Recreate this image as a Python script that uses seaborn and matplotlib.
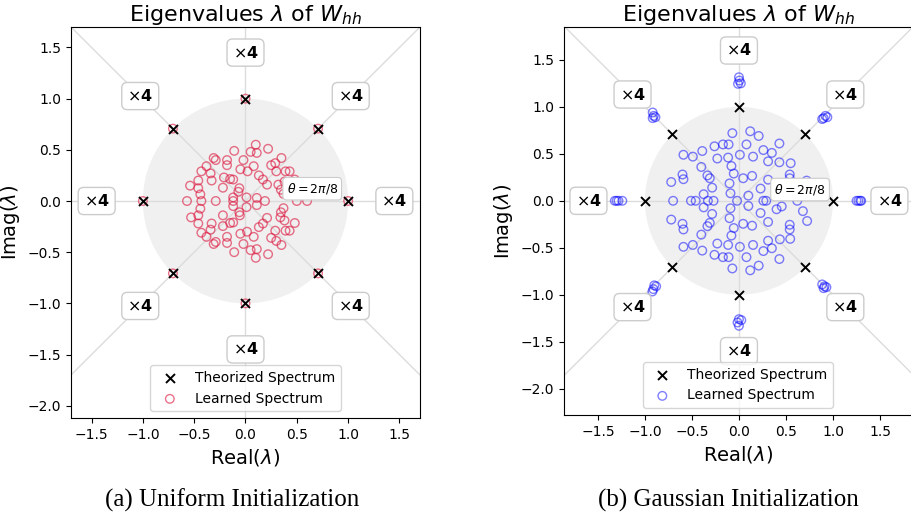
import numpy as np
import pandas as pd
import seaborn as sns
import matplotlib.pyplot as plt
from matplotlib.patches import Circle

sns.set_style("ticks", {"axes.edgecolor": "black", "text.color": "black",
                        "axes.labelcolor": "black", "xtick.color": "black",
                        "ytick.color": "black"})
plt.rcParams['font.family'] = ['DejaVu Sans']
plt.rcParams['mathtext.fontset'] = 'dejavusans'

# --- Data: theorized spectrum (8 roots of unity, multiplicity 4) ---
theory_re = [1.0, 0.707, 0.0, -0.707, -1.0, -0.707, 0.0, 0.707]
theory_im = [0.0, 0.707, 1.0, 0.707, 0.0, -0.707, -1.0, -0.707]
multiplicity = ["×4"] * 8

# --- Data: learned spectrum, uniform init ---
uni_upper = [
    (0.10, 0.55), (0.22, 0.51), (0.05, 0.48), (0.11, 0.47), (-0.11, 0.49),
    (-0.31, 0.42), (-0.29, 0.40), (-0.18, 0.40), (-0.02, 0.40), (0.35, 0.42),
    (0.29, 0.37), (0.25, 0.35), (-0.38, 0.34), (-0.18, 0.35), (0.08, 0.34),
    (-0.05, 0.31), (0.02, 0.29), (-0.43, 0.29), (-0.34, 0.27), (0.30, 0.29),
    (0.39, 0.29), (0.43, 0.29), (0.13, 0.25), (-0.21, 0.23), (-0.15, 0.215),
    (-0.12, 0.21), (-0.33, 0.20), (-0.46, 0.20), (0.17, 0.21), (0.21, 0.16),
    (0.48, 0.21), (-0.54, 0.15), (-0.46, 0.125), (-0.22, 0.13), (-0.06, 0.125),
    (-0.07, 0.09), (-0.44, 0.065), (-0.12, 0.035), (0.01, 0.035), (0.11, 0.03),
    (0.32, 0.16), (0.345, 0.11), (0.37, 0.07), (0.38, 0.19),
]
uni_lower = [
    (-0.12, -0.05), (-0.06, -0.11), (-0.055, -0.14), (0.01, -0.06), (0.11, -0.04),
    (-0.44, -0.075), (-0.53, -0.16), (-0.46, -0.14), (-0.46, -0.22), (-0.33, -0.22),
    (-0.22, -0.14), (-0.22, -0.245), (-0.15, -0.215), (-0.12, -0.21), (-0.34, -0.28),
    (-0.43, -0.31), (-0.38, -0.35), (-0.18, -0.35), (-0.18, -0.41), (-0.31, -0.42),
    (-0.29, -0.40), (-0.05, -0.32), (0.015, -0.30), (0.08, -0.35), (-0.02, -0.42),
    (-0.11, -0.50), (0.05, -0.48), (0.11, -0.47), (0.10, -0.555), (0.22, -0.52),
    (0.13, -0.255), (0.17, -0.22), (0.21, -0.165), (0.29, -0.29), (0.25, -0.36),
    (0.30, -0.39), (0.35, -0.43), (0.34, -0.16), (0.37, -0.07), (0.345, -0.11),
    (0.38, -0.19), (0.39, -0.29), (0.43, -0.29), (0.48, -0.215),
]
uni_real = [-0.57, -0.43, -0.29, -0.12, 0.19, 0.50, 0.60]
# the 32 unit-circle eigenvalues sit on the theorized points
uni_circle = list(zip(theory_re, theory_im))

# --- Data: learned spectrum, gaussian init ---
gau_upper = [
    (-0.07, 0.72), (0.12, 0.74), (0.21, 0.69), (0.43, 0.61), (-0.26, 0.58),
    (-0.17, 0.60), (-0.11, 0.60), (0.08, 0.60), (-0.39, 0.53), (0.26, 0.54),
    (0.35, 0.51), (-0.59, 0.49), (-0.49, 0.47), (-0.23, 0.45), (-0.115, 0.46),
    (0.01, 0.49), (0.15, 0.47), (0.31, 0.42), (0.43, 0.41), (0.55, 0.40),
    (-0.40, 0.36), (-0.08, 0.37), (-0.60, 0.28), (-0.59, 0.23), (-0.335, 0.27),
    (-0.31, 0.24), (-0.055, 0.29), (0.045, 0.24), (0.14, 0.265), (0.54, 0.28),
    (0.54, 0.24), (0.31, 0.225), (-0.72, 0.20), (-0.285, 0.14), (-0.10, 0.185),
    (0.23, 0.13), (0.72, 0.215), (-0.375, 0.07), (-0.09, 0.08), (0.10, 0.055),
    (0.40, 0.09), (0.455, 0.06), (0.68, 0.11),
]
gau_lower = [
    (-0.375, -0.07), (-0.09, -0.08), (0.10, -0.055), (0.40, -0.09), (0.455, -0.06),
    (0.68, -0.11), (0.725, -0.215), (-0.72, -0.20), (-0.285, -0.14), (-0.10, -0.185),
    (0.23, -0.13), (0.31, -0.225), (-0.60, -0.245), (-0.59, -0.305), (-0.335, -0.27),
    (-0.31, -0.235), (-0.055, -0.29), (0.045, -0.245), (0.14, -0.265), (0.54, -0.255),
    (0.54, -0.305), (-0.40, -0.36), (-0.08, -0.37), (0.545, -0.405), (0.435, -0.41),
    (0.31, -0.425), (-0.59, -0.49), (-0.49, -0.47), (-0.23, -0.455), (-0.115, -0.47),
    (0.01, -0.49), (0.15, -0.47), (0.35, -0.505), (0.26, -0.535), (-0.39, -0.53),
    (-0.26, -0.575), (-0.17, -0.60), (-0.11, -0.60), (0.08, -0.60), (0.43, -0.62),
    (-0.07, -0.72), (0.12, -0.74), (0.21, -0.69),
]
gau_real = [-0.70, -0.51, -0.46, -0.33, -0.27, -0.02, 0.26, 0.29, 0.62]
gau_outer = [
    (0.00, 1.315), (0.005, 1.28), (-0.01, 1.245), (0.02, 1.25),
    (0.00, -1.26), (0.025, -1.27), (0.00, -1.33), (-0.015, -1.295),
    (-0.917, 0.94), (-0.906, 0.904), (-0.888, 0.89), (-0.917, 0.88),
    (0.885, 0.87), (0.92, 0.904), (0.94, 0.89), (0.90, 0.88),
    (-0.90, -0.90), (-0.91, -0.94), (-0.92, -0.965), (-0.88, -0.91),
    (0.885, -0.89), (0.91, -0.91), (0.93, -0.92), (0.90, -0.93),
    (-1.32, 0.0), (-1.28, 0.0), (-1.24, 0.0), (-1.30, 0.0),
    (1.25, 0.0), (1.27, 0.0), (1.29, 0.0), (1.30, 0.0),
]


def to_frame(pairs, reals):
    pts = list(pairs) + [(r, 0.0) for r in reals]
    return pd.DataFrame(pts, columns=["re", "im"])


uni_df = to_frame(uni_upper + uni_lower + uni_circle, uni_real)
gau_df = to_frame(gau_upper + gau_lower + gau_outer, gau_real)
theory_df = pd.DataFrame({"re": theory_re, "im": theory_im})

W, H = 912, 516
fig = plt.figure(figsize=(W / 100, H / 100), dpi=100)

panels = [
    dict(rect=[71, 27, 349, 391], xlim=(-1.70, 1.70), ylim=(-2.12, 1.70),
         df=uni_df, color="crimson", alpha=0.6, label_r=1.45),
    dict(rect=[564, 27, 348, 388], xlim=(-1.86, 1.84), ylim=(-2.28, 1.85),
         df=gau_df, color="blue", alpha=0.5, label_r=1.6),
]

for p in panels:
    x0, y0, w, h = p["rect"]
    ax = fig.add_axes([x0 / W, 1 - (y0 + h) / H, w / W, h / H])
    ax.add_patch(Circle((0, 0), 1.0, facecolor="#f0f0f0", edgecolor="none", zorder=0))
    for slope in [0, 1, -1]:
        ax.axline((0, 0), slope=slope, color="#dcdcdc", lw=1, zorder=1)
    ax.axvline(0, color="#dcdcdc", lw=1, zorder=1)

    sns.scatterplot(data=p["df"], x="re", y="im", ax=ax, marker="o", s=38,
                    facecolors="none", edgecolor=p["color"], linewidth=1.0,
                    alpha=p["alpha"], zorder=3, label="Learned Spectrum")
    sns.scatterplot(data=theory_df, x="re", y="im", ax=ax, marker="x", s=42,
                    color="black", linewidth=1.4, zorder=4,
                    label="Theorized Spectrum")

    for k, txt in enumerate(multiplicity):
        ang = np.pi / 4 * k
        ax.text(p["label_r"] * np.cos(ang), p["label_r"] * np.sin(ang),
                r"$\times\mathbf{4}$", ha="center", va="center", fontsize=11.5,
                zorder=5,
                bbox=dict(boxstyle="round,pad=0.35", fc="white", ec="#cccccc", lw=1))
    ax.text(0.65, 0.12, r"$\theta = 2\pi/8$", ha="center", va="center",
            fontsize=9, zorder=6,
            bbox=dict(boxstyle="round,pad=0.3", fc="white", ec="#cccccc", lw=0.8))

    ax.set_xlim(*p["xlim"])
    ax.set_ylim(*p["ylim"])
    ax.set_xticks([-1.5, -1.0, -0.5, 0.0, 0.5, 1.0, 1.5])
    ax.set_yticks([-2.0, -1.5, -1.0, -0.5, 0.0, 0.5, 1.0, 1.5])
    ax.tick_params(labelsize=10)
    ax.set_xlabel(r"Real($\lambda$)", fontsize=14)
    ax.set_ylabel(r"Imag($\lambda$)", fontsize=14)
    ax.set_title(r"Eigenvalues $\lambda$ of $W_{hh}$", fontsize=16, pad=3)

    handles, labels = ax.get_legend_handles_labels()
    order = [labels.index("Theorized Spectrum"), labels.index("Learned Spectrum")]
    ax.legend([handles[i] for i in order], [labels[i] for i in order],
              loc="lower center", fontsize=10, frameon=True)

fig.text(232 / W, 1 - 500 / H, "(a) Uniform Initialization", ha="center",
         va="center", fontsize=18, family="Liberation Serif")
fig.text(728 / W, 1 - 500 / H, "(b) Gaussian Initialization", ha="center",
         va="center", fontsize=18, family="Liberation Serif")

fig.savefig("out.png", dpi=100)
